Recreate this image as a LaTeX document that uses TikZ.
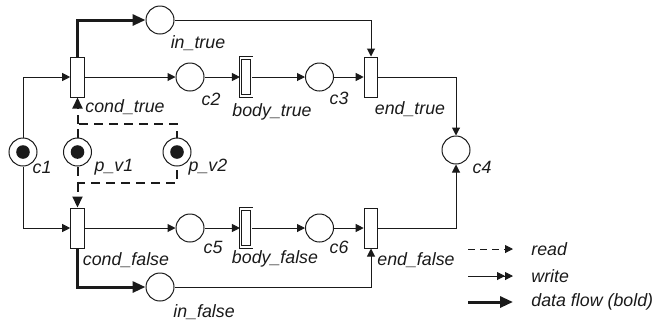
\documentclass[tikz,border=0pt]{standalone}
\usepackage{fontspec}
\setmainfont{Liberation Sans}
\usepackage{tikz}
\usetikzlibrary{arrows.meta,calc,positioning}
\definecolor{netline}{HTML}{1A1A1A}
\tikzset{
every picture/.style={line cap=butt,line join=miter},
net place/.style={
  draw=netline,
  circle,
  minimum size=14pt,
  inner sep=0pt,
  line width=0.5pt
},
net token/.style={
  net place,
  path picture={\fill[netline] (path picture bounding box.center) circle (3.4pt);}
},
net trans/.style={
  draw=netline,
  rectangle,
  minimum width=6.8pt,
  minimum height=20pt,
  inner sep=0pt,
  line width=0.5pt
},
net body/.style={
  net trans,
  double,
  double distance=0.9pt,
  line width=0.45pt,
  minimum width=5.6pt,
  minimum height=18.8pt
},
net arc/.style={
  draw=netline,
  line width=0.5pt,
  -{Triangle[length=4pt,width=4pt]}
},
net flow/.style={
  draw=netline,
  line width=1.5pt,
  -{Triangle[length=6.5pt,width=5.5pt]}
},
net read/.style={
  draw=netline,
  line width=1pt,
  dash pattern=on 4.5pt off 3pt
},
net label/.style={font=\fontsize{8.9pt}{10pt}\selectfont\itshape, text=netline, inner sep=0pt}
}

\begin{document}
\begin{tikzpicture}[x=0.5pt,y=-0.5pt]
\useasboundingbox (0,0) rectangle (657,323);
\node[net place] (intrue) at (160,20) {};
\node[net trans] (condtrue) at (77.5,77) {};
\node[net place] (c2) at (190,77) {};
\node[net body] (bodytrue) at (246,77) {};
\node[net place] (c3) at (319.5,77) {};
\node[net trans] (endtrue) at (371,77) {};
\node[net place] (c4) at (456,150) {};
\node[net token] (c1) at (23,152) {};
\node[net token] (pv1) at (77.5,152) {};
\node[net token] (pv2) at (177,152) {};
\node[net trans] (condfalse) at (77.5,228) {};
\node[net place] (c5) at (190,228) {};
\node[net body] (bodyfalse) at (246,228) {};
\node[net place] (c6) at (319.5,228) {};
\node[net trans] (endfalse) at (371,228) {};
\node[net place] (infalse) at (160,287) {};
\node[net label] (lintrue) at (198,43) {in\_true};
\node[net label] (lcondtrue) at (125,107) {cond\_true};
\node[net label] (lc2) at (211,99) {c2};
\node[net label] (lbodytrue) at (272,112) {body\_true};
\node[net label] (lc3) at (339,98) {c3};
\node[net label] (lendtrue) at (410,109) {end\_true};
\node[net label] (lc4) at (482,167) {c4};
\node[net label] (lc1) at (42,167) {c1};
\node[net label] (lpv1) at (114,167) {p\_v1};
\node[net label] (lpv2) at (208,167) {p\_v2};
\node[net label] (lcondfalse) at (126,260) {cond\_false};
\node[net label] (lc5) at (213,247) {c5};
\node[net label] (lbodyfalse) at (275,259) {body\_false};
\node[net label] (lc6) at (339,247) {c6};
\node[net label] (lendfalse) at (416,260) {end\_false};
\node[net label] (linfalse) at (204,312) {in\_false};
\draw[net arc] (c1) |- (condtrue);
\draw[net arc] (c1) |- (condfalse);
\draw[net arc] (condtrue) -- (c2);
\draw[net arc] (c2) -- (bodytrue);
\draw[net arc] (bodytrue) -- (c3);
\draw[net arc] (c3) -- (endtrue);
\draw[net arc] (condfalse) -- (c5);
\draw[net arc] (c5) -- (bodyfalse);
\draw[net arc] (bodyfalse) -- (c6);
\draw[net arc] (c6) -- (endfalse);
\draw[net flow] (condtrue.north) |- (intrue);
\draw[net flow] (condfalse.south) |- (infalse);
\draw[net arc] (intrue) -| (endtrue);
\draw[net arc] (infalse) -| (endfalse);
\draw[net arc] (endtrue) -| (c4);
\draw[net arc] (endfalse) -| (c4);
\coordinate (rtop) at (77.5,124);
\coordinate (rbot) at (77.5,183);
\draw[net read] (pv1) -- (rtop) -| (pv2);
\draw[net read] (pv1) -- (rbot) -| (pv2);
\draw[net read,-{Triangle[length=5.5pt,width=5pt]}] (rtop) -- (condtrue);
\draw[net read,-{Triangle[length=5.5pt,width=5pt]}] (rbot) -- (condfalse);
\coordinate (kread0) at (468,249);
\coordinate (kread1) at (513,249);
\coordinate (kwrite0) at (468,276);
\coordinate (kwrite1) at (513,276);
\coordinate (kflow0) at (468,302);
\coordinate (kflow1) at (513,302);
\draw[net arc,dash pattern=on 3.5pt off 2.5pt] (kread0) -- (kread1);
\draw[net arc,-{Triangle[length=4pt,width=4pt]Triangle[length=4pt,width=4pt]}] (kwrite0) -- (kwrite1);
\draw[net flow] (kflow0) -- (kflow1);
\node[net label,anchor=west] (kread) at (531,249) {read};
\node[net label,anchor=west] (kwrite) at (531,276) {write};
\node[net label,anchor=west] (kflow) at (531,302) {data flow (bold)};
\end{tikzpicture}
\end{document}
